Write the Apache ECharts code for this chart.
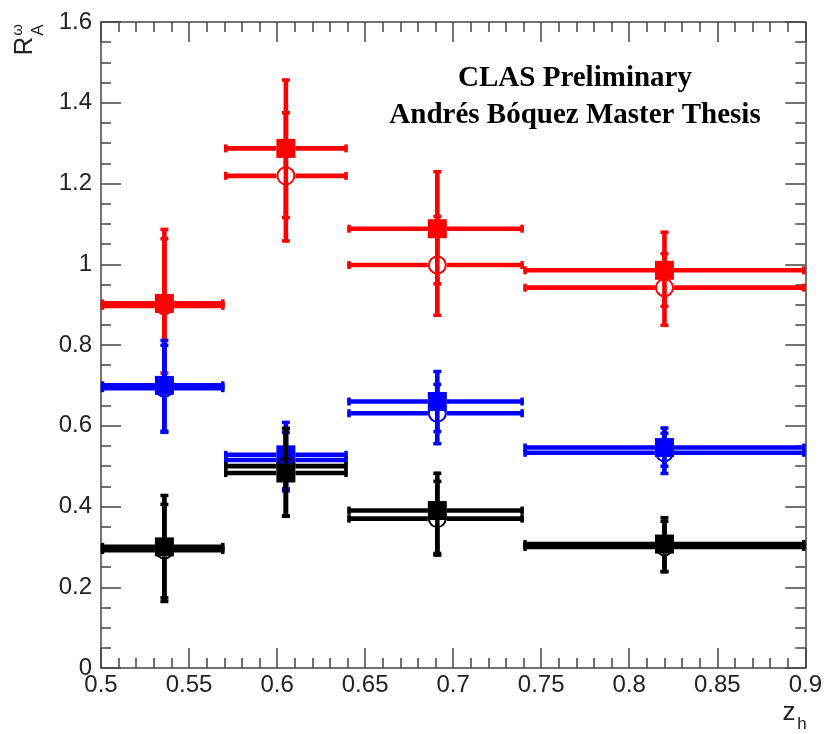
<!DOCTYPE html>
<html>
<head>
<meta charset="utf-8">
<script src="https://cdn.jsdelivr.net/npm/echarts@6/dist/echarts.min.js"></script>
<style>
html,body{margin:0;padding:0;background:#fff;}
#chart{width:825px;height:734px;}
</style>
</head>
<body>
<div id="chart"></div>
<script>
// ---- data ----
const binLow  = [0.50, 0.57, 0.64, 0.74];
const binHigh = [0.57, 0.64, 0.74, 0.90];
const zCenter = [0.536, 0.605, 0.691, 0.820];

const redFilled    = [0.903, 1.287, 1.088, 0.985];
const redFilledUp  = [0.187, 0.173, 0.145, 0.098];
const redFilledDn  = [0.190, 0.175, 0.140, 0.093];
const redOpen      = [0.897, 1.219, 0.998, 0.942];
const redOpenUp    = [0.170, 0.160, 0.124, 0.088];
const redOpenDn    = [0.170, 0.165, 0.128, 0.097];

const blueFilled   = [0.700, 0.528, 0.660, 0.546];
const blueFilledUp = [0.115, 0.084, 0.078, 0.052];
const blueFilledDn = [0.120, 0.088, 0.078, 0.050];
const blueOpen     = [0.693, 0.515, 0.631, 0.533];
const blueOpenUp   = [0.110, 0.072, 0.075, 0.052];
const blueOpenDn   = [0.110, 0.080, 0.079, 0.055];

const blackFilled   = [0.300, 0.483, 0.390, 0.307];
const blackFilledUp = [0.131, 0.114, 0.096, 0.069];
const blackFilledDn = [0.130, 0.110, 0.110, 0.072];
const blackOpen     = [0.292, 0.500, 0.370, 0.300];
const blackOpenUp   = [0.117, 0.097, 0.096, 0.067];
const blackOpenDn   = [0.131, 0.128, 0.094, 0.065];

const xTicks = [0.5, 0.55, 0.6, 0.65, 0.7, 0.75, 0.8, 0.85, 0.9];
const yTicks = [0, 0.2, 0.4, 0.6, 0.8, 1, 1.2, 1.4, 1.6];

function items(vals, up, dn) {
  return zCenter.map((z, i) => [z, binLow[i], binHigh[i], vals[i], vals[i] - dn[i], vals[i] + up[i]]);
}

function makeSeries(name, color, filled, vals, up, dn) {
  return {
    name: name,
    type: 'custom',
    xAxisIndex: 0, yAxisIndex: 0,
    clip: false,
    data: items(vals, up, dn),
    encode: { x: 0, y: 3 },
    renderItem: function (params, api) {
      const c = api.coord([api.value(0), api.value(3)]);
      const xl = api.coord([api.value(1), api.value(3)])[0];
      const xh = api.coord([api.value(2), api.value(3)])[0];
      const yl = api.coord([api.value(0), api.value(4)])[1];
      const yh = api.coord([api.value(0), api.value(5)])[1];
      const r = 9.5;
      const lw = 4.6;
      const ls = { stroke: color, lineWidth: lw, lineCap: 'butt' };
      const cs = { stroke: color, lineWidth: 3.5, lineCap: 'butt' };
      const ch = [
        { type: 'line', shape: { x1: xl, y1: c[1], x2: c[0] - r, y2: c[1] }, style: ls },
        { type: 'line', shape: { x1: c[0] + r, y1: c[1], x2: xh, y2: c[1] }, style: ls },
        { type: 'line', shape: { x1: c[0], y1: yh, x2: c[0], y2: c[1] - r }, style: ls },
        { type: 'line', shape: { x1: c[0], y1: c[1] + r, x2: c[0], y2: yl }, style: ls },
        { type: 'line', shape: { x1: xl + 1.5, y1: c[1] - 4, x2: xl + 1.5, y2: c[1] + 4 }, style: cs },
        { type: 'line', shape: { x1: xh - 1.5, y1: c[1] - 4, x2: xh - 1.5, y2: c[1] + 4 }, style: cs },
        { type: 'line', shape: { x1: c[0] - 4, y1: yh + 1.5, x2: c[0] + 4, y2: yh + 1.5 }, style: cs },
        { type: 'line', shape: { x1: c[0] - 4, y1: yl - 1.5, x2: c[0] + 4, y2: yl - 1.5 }, style: cs }
      ];
      if (filled) {
        ch.push({ type: 'rect', shape: { x: c[0] - r, y: c[1] - r, width: 2 * r, height: 2 * r }, style: { fill: color } });
      } else {
        ch.push({ type: 'circle', shape: { cx: c[0], cy: c[1], r: r - 1 }, style: { fill: 'none', stroke: color, lineWidth: 2 } });
      }
      return { type: 'group', children: ch };
    }
  };
}

const axisColor = '#444';
const labelFont = { fontFamily: 'Liberation Sans', fontSize: 24, color: '#222' };

function xAx(pos, show) {
  return {
    type: 'value', position: pos, min: 0.5, max: 0.9, interval: 0.05,
    axisLine: { show: true, onZero: false, lineStyle: { color: axisColor, width: 1.5 } },
    axisTick: { show: true, inside: true, length: 20, lineStyle: { color: axisColor, width: 1.5 } },
    minorTick: { show: true, splitNumber: 5, length: 10, lineStyle: { color: axisColor, width: 1.5 } },
    splitLine: { show: false },
    axisLabel: Object.assign({ show: show, margin: 5 }, labelFont)
  };
}
function yAx(pos, show) {
  return {
    type: 'value', position: pos, min: 0, max: 1.6, interval: 0.2,
    axisLine: { show: true, onZero: false, lineStyle: { color: axisColor, width: 1.5 } },
    axisTick: { show: true, inside: true, length: 20, lineStyle: { color: axisColor, width: 1.5 } },
    minorTick: { show: true, splitNumber: 4, length: 10, lineStyle: { color: axisColor, width: 1.5 } },
    splitLine: { show: false },
    axisLabel: Object.assign({ show: show, margin: 9 }, labelFont)
  };
}

const chart = echarts.init(document.getElementById('chart'), null, { renderer: 'canvas' });
chart.setOption({
  animation: false,
  backgroundColor: '#fff',
  grid: { left: 101, right: 17, top: 22, bottom: 66 },
  xAxis: [xAx('bottom', true), xAx('top', false)],
  yAxis: [yAx('left', true), yAx('right', false)],
  series: [
    makeSeries('red filled', '#ff0000', true, redFilled, redFilledUp, redFilledDn),
    makeSeries('red open', '#ff0000', false, redOpen, redOpenUp, redOpenDn),
    makeSeries('blue filled', '#0000ff', true, blueFilled, blueFilledUp, blueFilledDn),
    makeSeries('blue open', '#0000ff', false, blueOpen, blueOpenUp, blueOpenDn),
    makeSeries('black filled', '#000000', true, blackFilled, blackFilledUp, blackFilledDn),
    makeSeries('black open', '#000000', false, blackOpen, blackOpenUp, blackOpenDn)
  ],
  graphic: [
    { type: 'text', x: 575, y: 79, style: { text: 'CLAS Preliminary', font: 'bold 29px "Liberation Serif"', fill: '#000', textAlign: 'center', textVerticalAlign: 'middle' } },
    { type: 'text', x: 575, y: 116, style: { text: 'Andrés Bóquez Master Thesis', font: 'bold 29px "Liberation Serif"', fill: '#000', textAlign: 'center', textVerticalAlign: 'middle' } },
    { type: 'text', x: 25, y: 46, rotation: Math.PI / 2, style: { text: 'R', font: '26px "Liberation Sans"', fill: '#222', textAlign: 'center', textVerticalAlign: 'middle' } },
    { type: 'text', x: 38, y: 30, rotation: Math.PI / 2, style: { text: 'A', font: '17px "Liberation Sans"', fill: '#222', textAlign: 'center', textVerticalAlign: 'middle' } },
    { type: 'text', x: 18, y: 30, rotation: Math.PI / 2, style: { text: 'ω', font: '15px "Liberation Sans"', fill: '#222', textAlign: 'center', textVerticalAlign: 'middle' } },
    { type: 'text', x: 789, y: 713, style: { text: 'z', font: '26px "Liberation Sans"', fill: '#222', textAlign: 'center', textVerticalAlign: 'middle' } },
    { type: 'text', x: 802, y: 724, style: { text: 'h', font: '17px "Liberation Sans"', fill: '#222', textAlign: 'center', textVerticalAlign: 'middle' } }
  ]
});
</script>
</body>
</html>
